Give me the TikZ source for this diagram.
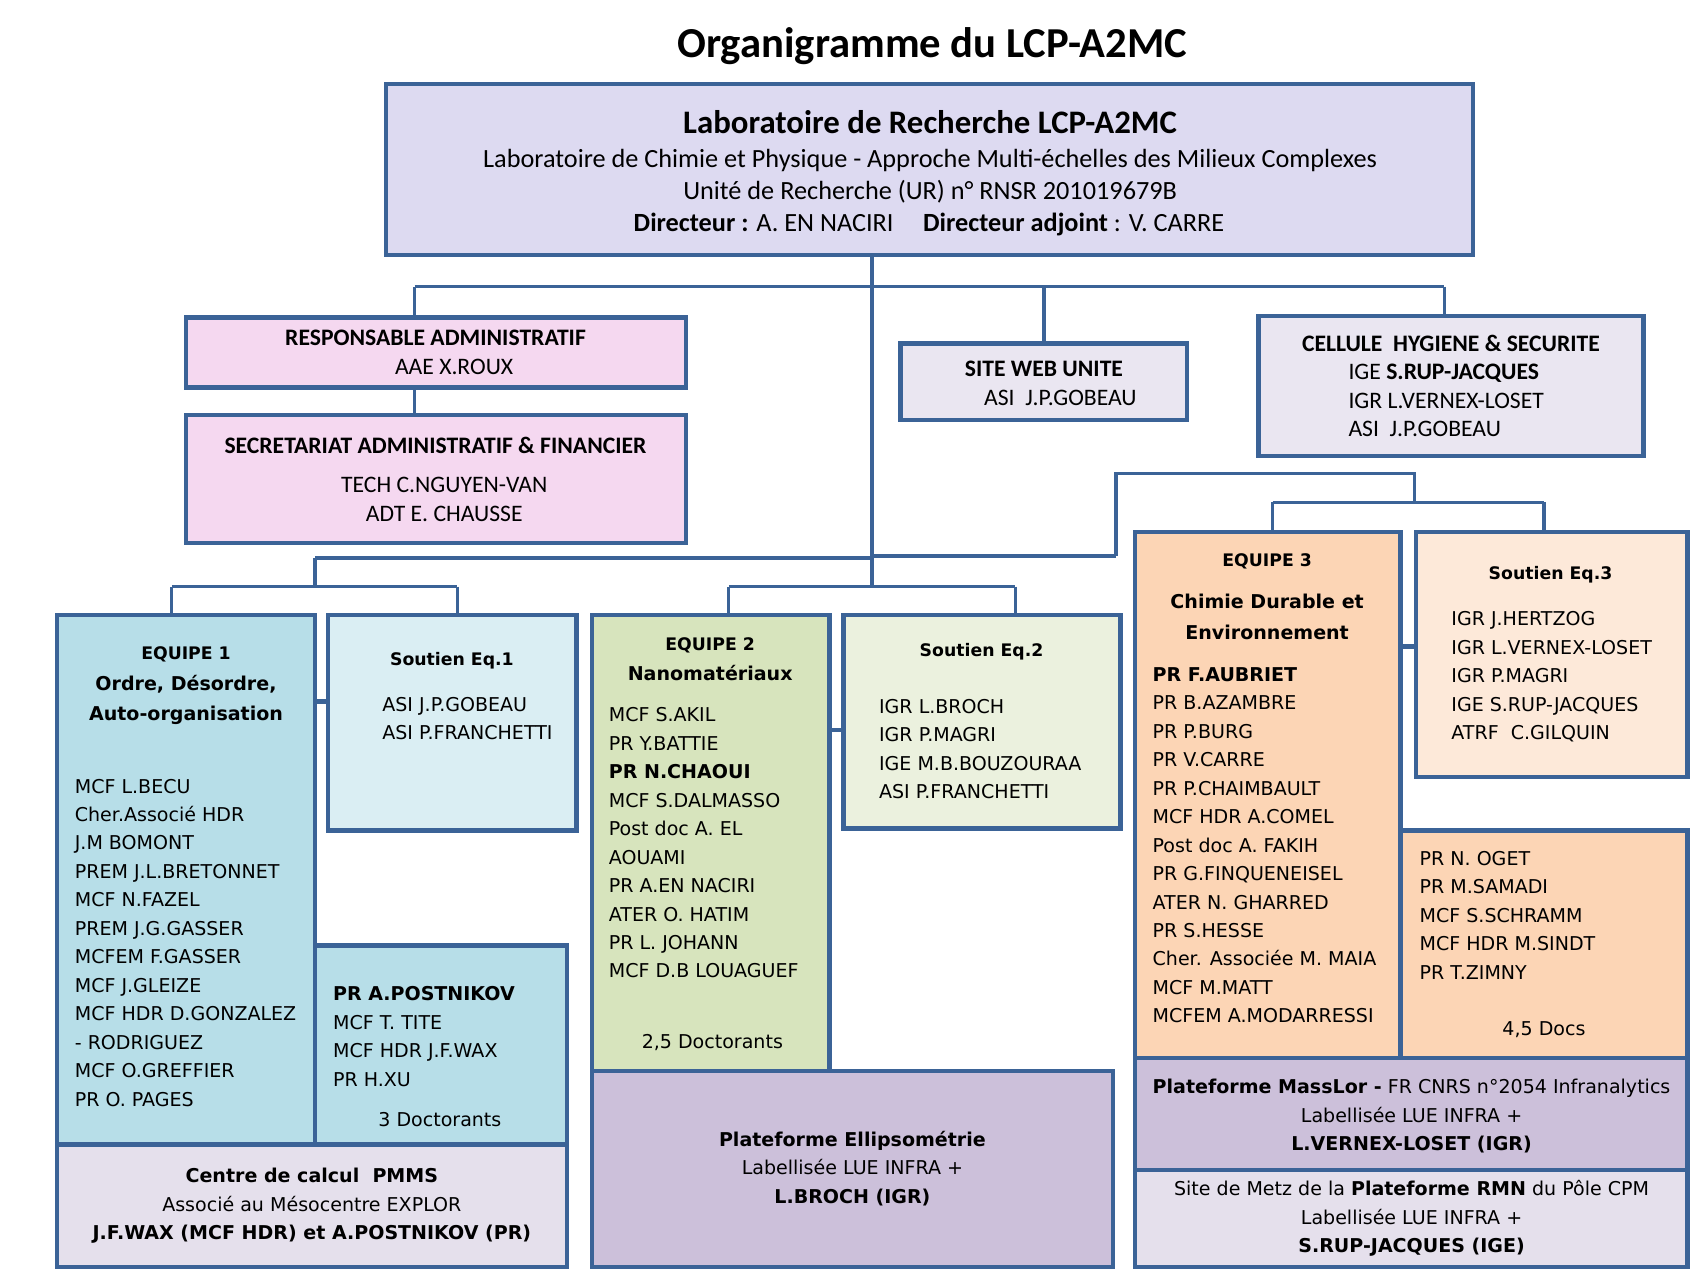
\documentclass[tikz,border=0pt]{standalone}
\usepackage{fontspec}
\setmainfont{Carlito}
\newfontfamily\vf{DejaVu Sans}
\definecolor{bd}{HTML}{3B6397}
\definecolor{ctop}{HTML}{DDDAF1}
\definecolor{cpink}{HTML}{F5D8F0}
\definecolor{cgrey}{HTML}{EAE6F1}
\definecolor{cblue}{HTML}{B7DEE8}
\definecolor{cblueb}{HTML}{DAEEF3}
\definecolor{cgreen}{HTML}{D7E4BD}
\definecolor{cgreenb}{HTML}{EBF1DE}
\definecolor{corange}{HTML}{FCD5B5}
\definecolor{corangeb}{HTML}{FDE9D9}
\definecolor{cpurple}{HTML}{CCC0DA}
\definecolor{clight}{HTML}{E5E0EC}
\newcommand\bx[6]{%
  \pgfmathsetmacro\bxw{(#4-#2)*0.5}%
  \pgfmathsetmacro\bxh{(#5-#3)*0.5}%
  \node[orgbox, fill=#6, minimum width=\bxw pt, minimum height=\bxh pt] (#1) at ({(#2+#4)/2},{(#3+#5)/2}) {};}
\begin{document}
\begin{tikzpicture}[x=0.5pt,y=-0.5pt,
  orgbox/.style={draw=bd, line width=2pt, inner sep=0pt, outer sep=0pt},
  conn/.style={draw=bd, line width=1.5pt},
  stub/.style={draw=bd, line width=2pt},
  ttl/.style={font=\bfseries\fontsize{19.5}{23}\selectfont, inner sep=0pt, anchor=mid, yshift=-3pt},
  labt/.style={font=\bfseries\fontsize{15}{18}\selectfont, inner sep=0pt, anchor=mid, yshift=-2.5pt},
  labs/.style={font=\fontsize{12}{14.5}\selectfont, inner sep=0pt, anchor=mid, yshift=-1.8pt},
  cal/.style={font=\fontsize{10.8}{13}\selectfont, inner sep=0pt, anchor=mid, yshift=-1.2pt},
  calb/.style={font=\bfseries\fontsize{10.8}{13}\selectfont, inner sep=0pt, anchor=mid, yshift=-1.2pt},
  ver/.style={font=\vf\fontsize{8.7}{13}\selectfont, inner sep=0pt, anchor=mid},
  verb/.style={font=\vf\bfseries\fontsize{8.7}{13}\selectfont, inner sep=0pt, anchor=mid},
  vers/.style={font=\vf\bfseries\fontsize{7.9}{13}\selectfont, inner sep=0pt, anchor=mid},
]
\useasboundingbox (0,0) rectangle (1560,1170);
\fill[white] (0,0) rectangle (1560,1170);

% ---------- title
\node[ttl] (title) at (852,42) {Organigramme du LCP-A2MC};

% ---------- boxes
\bx{top}{353}{77}{1346}{233}{ctop}
\bx{ra}{170}{290}{627}{354}{cpink}
\bx{sec}{170}{379}{627}{496}{cpink}
\bx{web}{823}{314}{1085}{384}{cgrey}
\bx{cel}{1150}{289}{1502}{417}{cgrey}
\bx{e1}{52}{562}{288}{1046}{cblue}
\bx{s1}{300}{562}{527}{759}{cblueb}
\bx{e1b}{288}{864}{518}{1046}{cblue}
\bx{cc}{52}{1046}{518}{1158}{clight}
\bx{e2}{541}{562}{758}{979}{cgreen}
\bx{s2}{771}{562}{1024}{757}{cgreenb}
\bx{pe}{541}{979}{1017}{1158}{cpurple}
\bx{e3}{1037}{486}{1280}{967}{corange}
\bx{s3}{1294}{486}{1542}{710}{corangeb}
\bx{e3b}{1280}{759}{1542}{967}{corange}
\bx{pm}{1037}{967}{1542}{1069}{cpurple}
\bx{rmn}{1037}{1069}{1542}{1158}{clight}

% ---------- connectors
\coordinate (jm) at (797,262);
\coordinate (jra) at (379,262);
\coordinate (jweb) at (954,262);
\coordinate (jcel) at (1320,262);
\coordinate (jl) at (288,510);
\coordinate (jr) at (1020,508);
\coordinate (jm2) at (797,508);
\coordinate (jl2) at (288,536);
\coordinate (b1l) at (157,536);
\coordinate (b1r) at (418,536);
\coordinate (b2m) at (797,536);
\coordinate (b2l) at (666,536);
\coordinate (b2r) at (928,536);
\coordinate (r1) at (1020,433);
\coordinate (r2) at (1293,433);
\coordinate (r3) at (1293,459);
\coordinate (b3l) at (1163,459);
\coordinate (b3r) at (1411,459);
\coordinate (st1) at (0,641);
\coordinate (st2) at (0,667);
\coordinate (st3) at (0,591);

\draw[conn] (top.south -| jm) -- (b2m);
\draw[conn] (jra) -- (jcel);
\draw[conn] (jra) -- (ra.north -| jra);
\draw[conn] (jweb) -- (web.north -| jweb);
\draw[conn] (jcel) -- (cel.north -| jcel);
\draw[conn] (ra.south -| jra) -- (sec.north -| jra);
\draw[conn] (jl) -- (jl -| jm2);
\draw[conn] (jm2) -- (jr);
\draw[conn] (jl) -- (jl2);
\draw[conn] (b1l) -- (b1r);
\draw[conn] (b1l) -- (e1.north -| b1l);
\draw[conn] (b1r) -- (s1.north -| b1r);
\draw[conn] (b2l) -- (b2r);
\draw[conn] (b2l) -- (e2.north -| b2l);
\draw[conn] (b2r) -- (s2.north -| b2r);
\draw[conn] (jr) -- (r1) -- (r2) -- (r3);
\draw[conn] (b3l) -- (b3r);
\draw[conn] (b3l) -- (e3.north -| b3l);
\draw[conn] (b3r) -- (s3.north -| b3r);
\draw[stub] (e1.east |- st1) -- (s1.west |- st1);
\draw[stub] (e2.east |- st2) -- (s2.west |- st2);
\draw[stub] (e3.east |- st3) -- (s3.west |- st3);

% ---------- top box texts
\node[labt] (tl1) at (850,112) {Laboratoire de Recherche LCP-A2MC};
\node[labs] (tl2) at (850,145) {Laboratoire de Chimie et Physique - Approche Multi-échelles des Milieux Complexes};
\node[labs] (tl3) at (850,174) {Unité de Recherche (UR) n° RNSR 201019679B};
\node[labs] (tl4) at (849,203) {\textbf{Directeur :} A. EN NACIRI\hspace{0.9em} \textbf{Directeur adjoint} : V. CARRE};

% ---------- admin
\node[calb] (ra1) at (398,309) {RESPONSABLE ADMINISTRATIF};
\node[cal] (ra2) at (415,335) {AAE X.ROUX};
\node[calb] (sec1) at (398,407) {SECRETARIAT ADMINISTRATIF \& FINANCIER};
\node[cal] (sec2) at (406,443) {TECH C.NGUYEN-VAN};
\node[cal] (sec3) at (406,469) {ADT E. CHAUSSE};
\node[calb] (web1) at (954,337) {SITE WEB UNITE};
\node[cal, anchor=mid west] (web2) at (899,363) {ASI\ \ J.P.GOBEAU};
\node[calb] (cel1) at (1326,314) {CELLULE\ \ HYGIENE \& SECURITE};
\node[cal, anchor=mid west] (cel2) at (1232,340) {IGE \textbf{S.RUP-JACQUES}};
\node[cal, anchor=mid west] (cel3) at (1232,366) {IGR L.VERNEX-LOSET};
\node[cal, anchor=mid west] (cel4) at (1232,392) {ASI\ \ J.P.GOBEAU};

% ---------- equipe 1
\node[vers] (e1h) at (170,598) {EQUIPE 1};
\node[verb] (e1t1) at (170,626) {Ordre, Désordre,};
\node[verb] (e1t2) at (170,654) {Auto-organisation};
\foreach \t [count=\i] in {MCF L.BECU, Cher.Associé HDR, J.M BOMONT, PREM J.L.BRETONNET, MCF N.FAZEL, PREM J.G.GASSER, MCFEM F.GASSER, MCF J.GLEIZE, MCF HDR D.GONZALEZ, - RODRIGUEZ, MCF O.GREFFIER, PR O. PAGES}
  {\node[ver, anchor=mid west] (e1l\i) at (68,{720+26*(\i-1)}) {\t};}
\node[vers] (s1h) at (413,603) {Soutien Eq.1};
\foreach \t [count=\i] in {ASI J.P.GOBEAU, ASI P.FRANCHETTI}
  {\node[ver, anchor=mid west] (s1l\i) at (349,{645+26*(\i-1)}) {\t};}
\foreach \t [count=\i] in {\textbf{PR A.POSTNIKOV}, MCF T. TITE, MCF HDR J.F.WAX, PR H.XU}
  {\node[ver, anchor=mid west] (e1bl\i) at (304,{910+26*(\i-1)}) {\t};}
\node[ver] (e1bd) at (402,1025) {3 Doctorants};
\node[verb] (cc1) at (285,1076) {Centre de calcul\ \ PMMS};
\node[ver] (cc2) at (285,1102) {Associé au Mésocentre EXPLOR};
\node[verb] (cc3) at (285,1128) {J.F.WAX (MCF HDR) et A.POSTNIKOV (PR)};

% ---------- equipe 2
\node[vers] (e2h) at (649,590) {EQUIPE 2};
\node[verb] (e2t) at (649,617) {Nanomatériaux};
\foreach \t [count=\i] in {MCF S.AKIL, PR Y.BATTIE, \textbf{PR N.CHAOUI}, MCF S.DALMASSO, Post doc A. EL, AOUAMI, PR A.EN NACIRI, ATER O. HATIM, PR L. JOHANN, MCF D.B LOUAGUEF}
  {\node[ver, anchor=mid west] (e2l\i) at (556,{655+26*(\i-1)}) {\t};}
\node[ver] (e2d) at (651,953) {2,5 Doctorants};
\node[vers] (s2h) at (897,595) {Soutien Eq.2};
\foreach \t [count=\i] in {IGR L.BROCH, IGR P.MAGRI, IGE M.B.BOUZOURAA, ASI P.FRANCHETTI}
  {\node[ver, anchor=mid west] (s2l\i) at (803,{647+26*(\i-1)}) {\t};}
\node[verb] (pe1) at (779,1043) {Plateforme Ellipsométrie};
\node[ver] (pe2) at (779,1069) {Labellisée LUE INFRA +};
\node[verb] (pe3) at (779,1095) {L.BROCH (IGR)};

% ---------- equipe 3
\node[vers] (e3h) at (1158,513) {EQUIPE 3};
\node[verb] (e3t1) at (1158,551) {Chimie Durable et};
\node[verb] (e3t2) at (1158,580) {Environnement};
\foreach \t [count=\i] in {\textbf{PR F.AUBRIET}, PR B.AZAMBRE, PR P.BURG, PR V.CARRE, PR P.CHAIMBAULT, MCF HDR A.COMEL, Post doc A. FAKIH, PR G.FINQUENEISEL, ATER N. GHARRED, PR S.HESSE, Cher. Associée M. MAIA, MCF M.MATT, MCFEM A.MODARRESSI}
  {\node[ver, anchor=mid west] (e3l\i) at (1053,{618+26*(\i-1)}) {\t};}
\node[vers] (s3h) at (1417,525) {Soutien Eq.3};
\foreach \t [count=\i] in {IGR J.HERTZOG, IGR L.VERNEX-LOSET, IGR P.MAGRI, IGE S.RUP-JACQUES, ATRF\ \ C.GILQUIN}
  {\node[ver, anchor=mid west] (s3l\i) at (1326,{567+26*(\i-1)}) {\t};}
\foreach \t [count=\i] in {PR N. OGET, PR M.SAMADI, MCF S.SCHRAMM, MCF HDR M.SINDT, PR T.ZIMNY}
  {\node[ver, anchor=mid west] (e3bl\i) at (1297,{786+26*(\i-1)}) {\t};}
\node[ver] (e3bd) at (1411,942) {4,5 Docs};
\node[ver] (pm1) at (1290,995) {\textbf{Plateforme MassLor -} FR CNRS n°2054 Infranalytics};
\node[ver] (pm2) at (1290,1021) {Labellisée LUE INFRA +};
\node[verb] (pm3) at (1290,1047) {L.VERNEX-LOSET (IGR)};
\node[ver] (rm1) at (1290,1088) {Site de Metz de la \textbf{Plateforme RMN} du Pôle CPM};
\node[ver] (rm2) at (1290,1114) {Labellisée LUE INFRA +};
\node[verb] (rm3) at (1290,1140) {S.RUP-JACQUES (IGE)};
\end{tikzpicture}
\end{document}
